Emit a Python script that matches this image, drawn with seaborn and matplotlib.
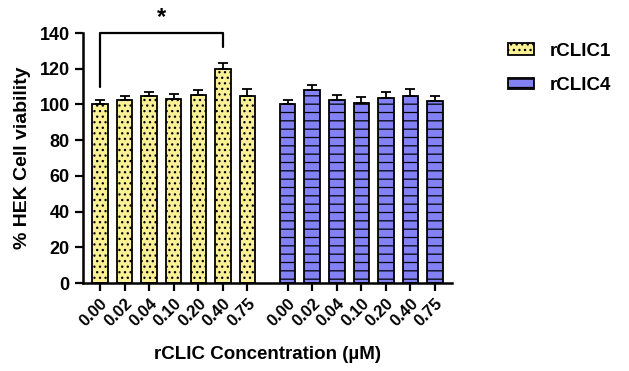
import numpy as np
import pandas as pd
import seaborn as sns
import matplotlib
matplotlib.use("Agg")
import matplotlib.pyplot as plt
from matplotlib.patches import Patch

concentrations = ["0.00", "0.02", "0.04", "0.10", "0.20", "0.40", "0.75"]
clic1_mean = [100.0, 102.6, 104.7, 103.0, 105.3, 119.8, 104.9]
clic1_err = [2.4, 1.9, 2.2, 2.8, 2.8, 3.2, 3.7]
clic4_mean = [100.0, 107.9, 102.6, 101.0, 103.8, 104.9, 101.9]
clic4_err = [2.4, 3.0, 2.6, 3.0, 3.0, 3.5, 2.9]
groups = ["rCLIC1", "rCLIC4"]

sns.set_theme(style="ticks")
plt.rcParams['font.family'] = ['Liberation Sans', 'DejaVu Sans']
plt.rcParams['font.weight'] = 'bold'
plt.rcParams['hatch.linewidth'] = 0.9
for k in ['text.color', 'axes.labelcolor', 'xtick.color', 'ytick.color']:
    plt.rcParams[k] = 'black'

n = len(concentrations)
gap = 1.64
pos1 = np.arange(n, dtype=float)
pos2 = np.arange(n, dtype=float) + (n - 1) + gap
df = pd.DataFrame({
    "pos": np.concatenate([pos1, pos2]),
    "val": clic1_mean + clic4_mean,
    "err": clic1_err + clic4_err,
    "group": [groups[0]] * n + [groups[1]] * n,
})

colors = {"rCLIC1": "#FAF096", "rCLIC4": "#8282F5"}
hatches = {"rCLIC1": "...", "rCLIC4": "--"}

fig = plt.figure(figsize=(6.29, 3.71), dpi=100)
ax = fig.add_axes([0.132, 0.237, 0.587, 0.674])

sns.barplot(data=df, x="pos", y="val", hue="group", native_scale=True,
            dodge=False, palette=colors, saturation=1, width=0.63,
            errorbar=None, edgecolor="black", linewidth=1.3, legend=False,
            ax=ax)

for bar, g in zip(ax.patches, df["group"]):
    bar.set_hatch(hatches[g])

ax.errorbar(df["pos"], df["val"], yerr=[np.zeros(len(df)), df["err"]],
            fmt="none", ecolor="black", elinewidth=1.3, capsize=3.5,
            capthick=1.3, zorder=3)

ax.set_ylim(0, 140)
ax.set_yticks(np.arange(0, 141, 20))
ax.set_xlim(-0.69, pos2[-1] + 0.7)
ax.set_xticks(df["pos"])
ax.set_xticklabels(concentrations + concentrations, rotation=45,
                   ha="right", rotation_mode="anchor", fontsize=12,
                   fontweight="bold")
for lab in ax.get_yticklabels():
    lab.set_fontweight("bold")
    lab.set_fontsize(13)
ax.tick_params(axis="both", width=1.6, length=6, color="black")
ax.tick_params(axis="x", pad=3)
for s in ["left", "bottom"]:
    ax.spines[s].set_linewidth(1.8)
    ax.spines[s].set_color("black")
sns.despine(ax=ax)

ax.set_ylabel("% HEK Cell viability", fontsize=14, fontweight="bold",
              labelpad=6)
ax.set_xlabel("rCLIC Concentration (µM)", fontsize=13.5, fontweight="bold",
              labelpad=12)

# significance bracket
bx = [pos1[0], pos1[0], pos1[5], pos1[5]]
by = [110, 140, 140, 132]
ax.plot(bx, by, color="black", lw=1.6, clip_on=False)
ax.text((pos1[0] + pos1[5]) / 2, 142, "*", ha="center", va="bottom",
        fontsize=17, fontweight="bold", clip_on=False)

handles = [Patch(facecolor=colors[g], edgecolor="black", hatch=hatches[g],
                 linewidth=1.3) for g in groups]
fig.legend(handles, groups, loc="upper left", bbox_to_anchor=(0.808, 0.885),
           frameon=False, borderpad=0, borderaxespad=0,
           handlelength=1.4, handleheight=0.55, handletextpad=0.8,
           labelspacing=0.95, prop={"weight": "bold", "size": 13.5})

fig.savefig("out.png", dpi=100)
